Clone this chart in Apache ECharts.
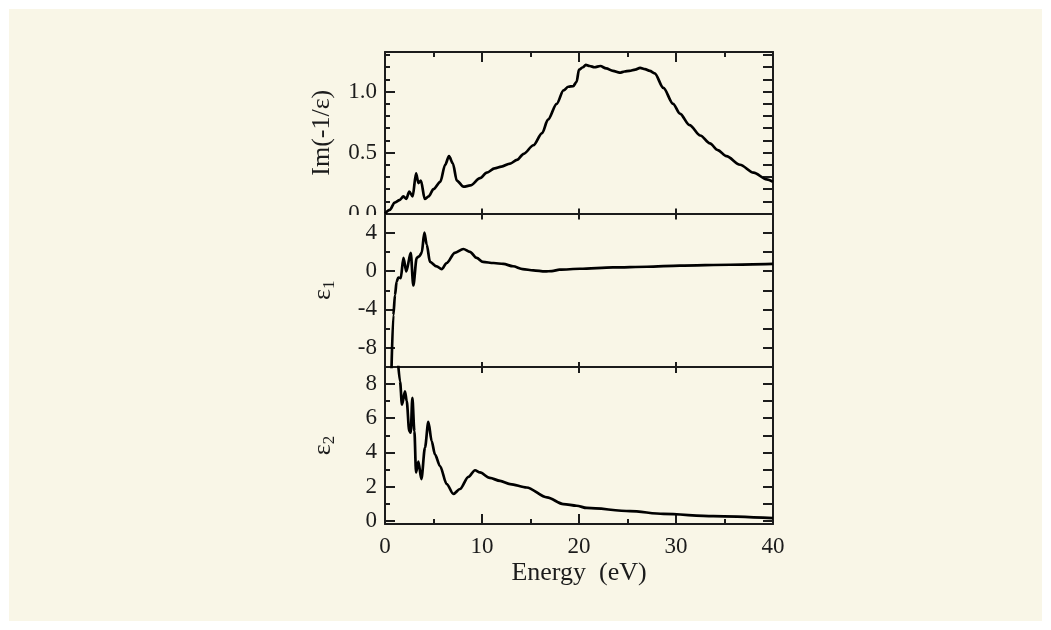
<!DOCTYPE html>
<html>
<head>
<meta charset="utf-8">
<script src="https://cdn.jsdelivr.net/npm/echarts@6/dist/echarts.min.js"></script>
<style>
  html, body { margin: 0; padding: 0; background: #ffffff; }
  #frame { position: absolute; left: 9px; top: 9px; width: 1033px; height: 612px; background: #f9f6e7; }
  #chart { position: absolute; left: 0; top: 0; width: 1051px; height: 630px; }
</style>
</head>
<body>
<div id="frame"></div>
<div id="chart"></div>
<script>
// Energy-loss function Im(-1/eps) versus photon energy (eV)
const lossEnergy = [0, 0.5, 1.0, 1.5, 1.9, 2.2, 2.5, 2.85, 3.2, 3.45, 3.7, 4.1, 4.5, 5.0, 5.7, 6.2, 6.6, 7.0, 7.4, 8.1, 8.8, 9.8, 10.5, 11.3, 12.0, 12.9, 13.6, 14.3, 15.3, 16.2, 16.8, 17.7, 18.4, 18.9, 19.4, 19.75, 20.0, 20.4, 20.7, 21.1, 21.6, 22.2, 22.8, 23.5, 24.2, 24.7, 25.2, 25.8, 26.3, 26.8, 27.3, 27.8, 28.7, 29.7, 30.4, 31.4, 32.5, 33.5, 34.3, 35.2, 36.6, 38.0, 39.35, 40];
const lossValues = [0, 0.03, 0.09, 0.11, 0.14, 0.12, 0.18, 0.14, 0.33, 0.25, 0.27, 0.12, 0.14, 0.20, 0.26, 0.40, 0.47, 0.41, 0.27, 0.22, 0.23, 0.29, 0.335, 0.37, 0.385, 0.41, 0.44, 0.49, 0.56, 0.66, 0.77, 0.90, 1.01, 1.04, 1.045, 1.08, 1.18, 1.20, 1.22, 1.21, 1.20, 1.21, 1.19, 1.17, 1.155, 1.165, 1.17, 1.18, 1.195, 1.185, 1.17, 1.15, 1.03, 0.90, 0.82, 0.725, 0.64, 0.575, 0.52, 0.47, 0.40, 0.335, 0.28, 0.26];

// Real part of the dielectric function
const eps1Energy = [0.65, 0.86, 1.03, 1.2, 1.37, 1.62, 1.9, 2.2, 2.65, 2.92, 3.27, 3.53, 3.78, 4.06, 4.3, 4.64, 5.33, 5.84, 6.36, 7.2, 8.08, 8.76, 9.45, 10.1, 11.2, 12.2, 13.2, 14.2, 15.3, 16.5, 17.2, 18.0, 20.1, 23.5, 27.0, 30.4, 35.6, 40];
const eps1Values = [-11, -4.6, -2.5, -1.1, -0.67, -0.74, 1.37, -0.04, 1.9, -1.5, 1.37, 1.54, 1.9, 4.0, 2.77, 0.95, 0.49, 0.2, 0.84, 1.9, 2.3, 2.0, 1.37, 0.95, 0.84, 0.74, 0.5, 0.21, 0.07, -0.04, 0.0, 0.14, 0.24, 0.38, 0.45, 0.56, 0.66, 0.74];

// Imaginary part of the dielectric function
const eps2Energy = [1.3, 1.55, 1.75, 2.06, 2.24, 2.5, 2.65, 2.82, 3.03, 3.2, 3.44, 3.75, 4.12, 4.47, 4.81, 5.15, 5.67, 6.36, 7.05, 7.73, 8.6, 9.28, 9.79, 10.8, 11.86, 12.9, 14.6, 16.7, 18.4, 19.76, 20.8, 25.26, 28.7, 33.85, 40];
const eps2Values = [9.6, 8.15, 6.8, 7.57, 7.0, 5.24, 5.15, 7.19, 5.24, 2.82, 3.46, 2.43, 4.27, 5.79, 4.66, 3.88, 3.2, 2.14, 1.56, 1.85, 2.56, 2.95, 2.82, 2.5, 2.33, 2.14, 1.94, 1.36, 0.97, 0.87, 0.74, 0.56, 0.39, 0.26, 0.14];

// Tick values for each panel
const lossMajor = [0, 0.5, 1.0];
const lossMinor = [0.1, 0.2, 0.3, 0.4, 0.6, 0.7, 0.8, 0.9, 1.1, 1.2, 1.3];
const lossRight = [0.1, 0.2, 0.3, 0.4, 0.5, 0.6, 0.7, 0.8, 0.9, 1.0, 1.1, 1.2, 1.3];
const eps1Major = [-8, -4, 0, 4];
const eps1Minor = [-6, -2, 2];
const eps1Right = [-8, -6, -4, -2, 0, 2, 4];
const eps2Major = [0, 2, 4, 6, 8];
const eps2Minor = [1, 3, 5, 7];
const eps2Right = [0, 1, 2, 3, 4, 5, 6, 7, 8];

const ink = '#1c1c1c';
const paper = '#f9f6e7';
const font = 'Liberation Serif';
const zip = (xs, ys) => xs.map((x, i) => [x, ys[i]]);

const chart = echarts.init(document.getElementById('chart'), null, { renderer: 'canvas' });

const grids = [
  { left: 385, width: 388, top: 52, height: 161.5 },
  { left: 385, width: 388, top: 213.5, height: 153.5 },
  { left: 385, width: 388, top: 367, height: 157 }
];

const panels = [
  { min: 0, max: 1.325, major: lossMajor, minor: lossMinor, right: lossRight, name: 'Im(-1/ε)', gap: 50, fmt: v => v.toFixed(1) },
  { min: -10, max: 6, major: eps1Major, minor: eps1Minor, right: eps1Right, name: '{e|ε}{s|1}', gap: 47, fmt: v => String(v) },
  { min: -0.2, max: 9, major: eps2Major, minor: eps2Minor, right: eps2Right, name: '{e|ε}{s|2}', gap: 47, fmt: v => String(v) }
];

const lineStyle = { color: ink, width: 2 };
const richName = {
  e: { fontFamily: font, fontSize: 26, color: ink },
  s: { fontFamily: font, fontSize: 17, color: ink, padding: [12, 0, 0, 0] }
};

const xAxis = [];
const yAxis = [];
grids.forEach((g, i) => {
  const isTop = i === 0, isBottom = i === 2;
  // bottom edge
  xAxis.push({
    type: 'value', gridIndex: i, position: 'bottom', min: 0, max: 40, interval: 10,
    axisLine: { show: true, onZero: false, lineStyle },
    axisTick: { show: true, inside: true, length: isBottom ? 10 : 5, lineStyle },
    minorTick: { show: isBottom, splitNumber: 2, length: 5, lineStyle },
    axisLabel: { show: isBottom, margin: 11, fontFamily: font, fontSize: 23, color: ink },
    splitLine: { show: false },
    name: isBottom ? 'Energy  (eV)' : '', nameLocation: 'middle', nameGap: 36,
    nameTextStyle: { fontFamily: font, fontSize: 26, color: ink }
  });
  // top edge
  xAxis.push({
    type: 'value', gridIndex: i, position: 'top', min: 0, max: 40, interval: 10,
    axisLine: { show: true, onZero: false, lineStyle },
    axisTick: { show: true, inside: true, length: isTop ? 10 : 6, lineStyle },
    minorTick: { show: isTop, splitNumber: 2, length: 5, lineStyle },
    axisLabel: { show: false }, splitLine: { show: false }
  });
  const p = panels[i];
  // left axis with labels and major ticks
  yAxis.push({
    type: 'value', gridIndex: i, position: 'left', min: p.min, max: p.max,
    axisLine: { show: true, onZero: false, lineStyle },
    axisTick: { show: true, inside: true, length: 10, lineStyle, customValues: p.major },
    axisLabel: { show: true, margin: 8, fontFamily: font, fontSize: 23, color: ink, customValues: p.major, formatter: p.fmt },
    splitLine: { show: false },
    name: p.name, nameLocation: 'middle', nameGap: p.gap,
    nameTextStyle: { fontFamily: font, fontSize: 26, color: ink, rich: richName }
  });
  // left minor ticks
  yAxis.push({
    type: 'value', gridIndex: i, position: 'left', min: p.min, max: p.max,
    axisLine: { show: false, onZero: false },
    axisTick: { show: true, inside: true, length: 5, lineStyle, customValues: p.minor },
    axisLabel: { show: false }, splitLine: { show: false }
  });
  // right edge ticks
  yAxis.push({
    type: 'value', gridIndex: i, position: 'right', min: p.min, max: p.max,
    axisLine: { show: true, onZero: false, lineStyle },
    axisTick: { show: true, inside: true, length: 10, lineStyle, customValues: p.right },
    axisLabel: { show: false }, splitLine: { show: false }
  });
});

const curveStyle = { color: '#000000', width: 2.7 };
const series = [
  { data: zip(lossEnergy, lossValues), xAxisIndex: 0, yAxisIndex: 0 },
  { data: zip(eps1Energy, eps1Values), xAxisIndex: 2, yAxisIndex: 3 },
  { data: zip(eps2Energy, eps2Values), xAxisIndex: 4, yAxisIndex: 6 }
].map(s => Object.assign({
  type: 'line', showSymbol: false, smooth: 0.3, smoothMonotone: 'x', clip: true,
  lineStyle: curveStyle, animation: false
}, s));

chart.setOption({
  backgroundColor: 'transparent',
  animation: false,
  grid: grids,
  xAxis, yAxis, series,
  // the panel below hides the lower half of the top panel's "0.0" label
  graphic: [{
    type: 'rect', z: 100, silent: true,
    shape: { x: 330, y: 215, width: 54, height: 8 },
    style: { fill: paper }
  }]
});
</script>
</body>
</html>
